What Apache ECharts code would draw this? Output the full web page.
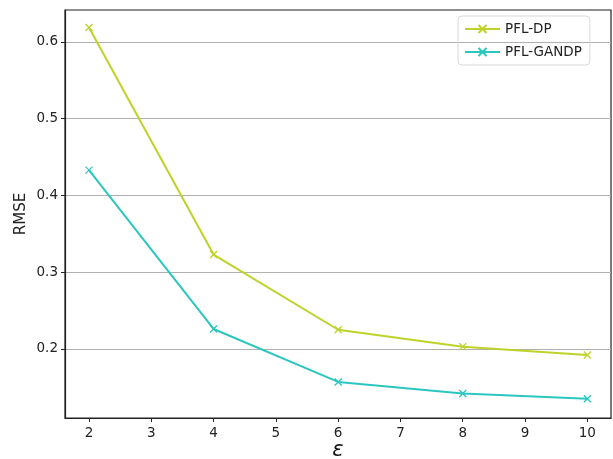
<!DOCTYPE html>
<html><head><meta charset="utf-8">
<script src="https://cdn.jsdelivr.net/npm/echarts@6/dist/echarts.min.js"></script>
<style>html,body{margin:0;padding:0;background:#fff}#c{width:613px;height:459px}</style>
</head><body><div id="c"></div>
<script>
const epsilons = [2, 4, 6, 8, 10];
const pflDP = [0.619, 0.323, 0.225, 0.203, 0.192];
const pflGANDP = [0.433, 0.226, 0.157, 0.142, 0.135];
const xTicks = [2, 3, 4, 5, 6, 7, 8, 9, 10];
const yTicks = [0.2, 0.3, 0.4, 0.5, 0.6];

const xMark = 'path://M0,0L10,10M10,0L0,10';
const chart = echarts.init(document.getElementById('c'), null, {renderer: 'canvas'});
const font = 'DejaVu Sans';
function mk(name, vals, color) {
  return {
    name: name, type: 'line',
    data: epsilons.map((e, i) => [e, vals[i]]),
    lineStyle: {color: color, width: 2},
    itemStyle: {color: color, borderColor: color, borderWidth: 1.3},
    symbol: xMark, symbolSize: 7, showSymbol: true,
    emphasis: {disabled: true}, animation: false
  };
}
chart.setOption({
  animation: false,
  backgroundColor: '#fff',
  grid: {left: 65, right: 2, top: 10, bottom: 41, show: true, borderColor: '#222', borderWidth: 1.2,
    containLabel: false, outerBoundsMode: 'none'},
  legend: {
    orient: 'vertical', left: 458, top: 16,
    itemWidth: 35, itemHeight: 10, itemGap: 9,
    padding: [6, 8, 6, 6],
    borderColor: '#d8d8d8', borderWidth: 1, borderRadius: 4,
    textStyle: {fontFamily: font, fontSize: 13.5, color: '#222'},
    data: ['PFL-DP', 'PFL-GANDP']
  },
  xAxis: {
    type: 'value', min: 1.615, max: 10.38,
    name: 'ε', nameLocation: 'middle', nameGap: 22, nameMoveOverlap: false,
    nameTextStyle: {fontFamily: font, fontStyle: 'italic', fontSize: 21, color: '#111'},
    axisLine: {show: true, lineStyle: {color: '#222', width: 1.2}},
    axisTick: {show: true, length: 4, customValues: xTicks, lineStyle: {color: '#222'}},
    axisLabel: {customValues: xTicks, fontFamily: font, fontSize: 13.5, color: '#222', margin: 8},
    splitLine: {show: false}
  },
  yAxis: {
    type: 'value', min: 0.110, max: 0.6417, interval: 0.1,
    name: 'RMSE', nameLocation: 'middle', nameGap: 36, nameRotate: 90, nameMoveOverlap: false,
    nameTextStyle: {fontFamily: font, fontSize: 15, color: '#222'},
    axisLine: {show: true, lineStyle: {color: '#222', width: 1.2}},
    axisTick: {show: true, length: 4, customValues: yTicks, lineStyle: {color: '#222'}},
    axisLabel: {customValues: yTicks, fontFamily: font, fontSize: 13.5, color: '#222', margin: 7,
      formatter: v => v.toFixed(1)},
    splitLine: {show: true, lineStyle: {color: '#b0b0b0', width: 1.2}}
  },
  series: [mk('PFL-DP', pflDP, '#bed22a'), mk('PFL-GANDP', pflGANDP, '#2cc6c0')]
});
</script></body></html>
